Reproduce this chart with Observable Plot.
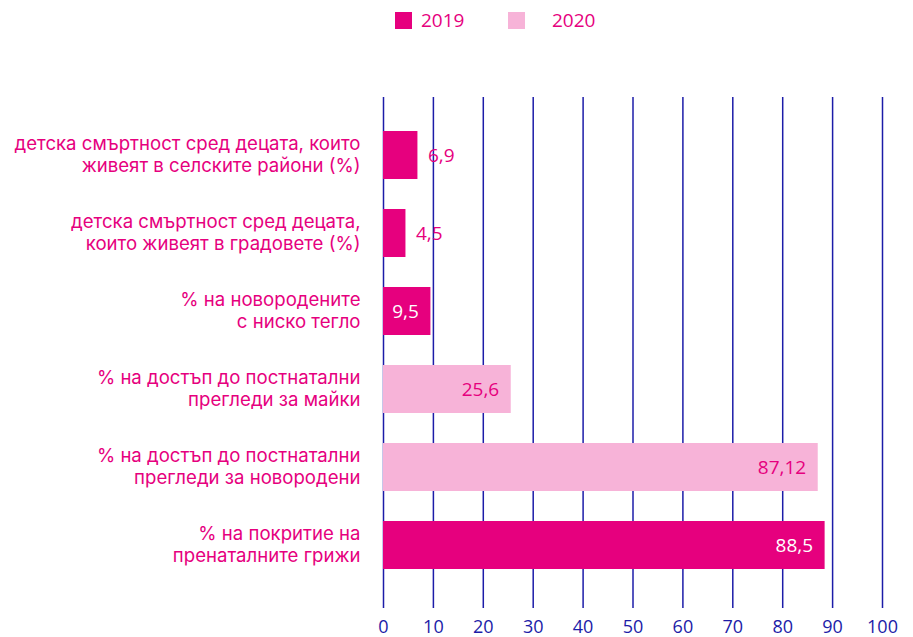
<!DOCTYPE html>
<html>
<head>
<meta charset="utf-8">
<script src="https://cdn.jsdelivr.net/npm/d3@7"></script>
<script src="https://cdn.jsdelivr.net/npm/@observablehq/plot@0.6"></script>
<style>
  html, body { margin: 0; padding: 0; background: #fff; }
  #wrap { width: 913px; height: 637px; position: relative; font-family: "Open Sans", sans-serif; }
  #legend { height: 40px; position: relative; }
  .sw { position: absolute; top: 12px; width: 17px; height: 17px; }
  .lt { position: absolute; top: 7px; font-size: 19px; color: #e6007e; font-family: "Open Sans", sans-serif; }
</style>
</head>
<body>
<div id="wrap">
  <div id="legend">
    <div class="sw" style="left:395px;background:#e6007e"></div>
    <div class="lt" style="left:421px">2019</div>
    <div class="sw" style="left:508px;background:#f7b3d8"></div>
    <div class="lt" style="left:552px">2020</div>
  </div>
  <div id="chart"></div>
</div>
<script>
const categories = [
  "детска смъртност сред децата, които\nживеят в селските райони (%)",
  "детска смъртност сред децата,\nкоито живеят в градовете (%)",
  "% на новородените\nс ниско тегло",
  "% на достъп до постнатални\nпрегледи за майки",
  "% на достъп до постнатални\nпрегледи за новородени",
  "% на покритие на\nпренаталните грижи"
];
const values = [6.9, 4.5, 9.5, 25.6, 87.12, 88.5];
const years = ["2019", "2019", "2019", "2020", "2020", "2019"];
const xTicks = [0, 10, 20, 30, 40, 50, 60, 70, 80, 90, 100];

const data = categories.map((c, i) => ({cat: c, value: values[i], year: years[i], label: String(values[i]).replace(".", ",")}));
const outside = data.filter(d => d.value < 8);
const inside = data.filter(d => d.value >= 8);

const magenta = "#e6007e";
const pink = "#f7b3d8";
const navy = "#1c1ca8";

const chart = Plot.plot({
  width: 913,
  height: 597,
  marginTop: 57,
  marginBottom: 29,
  marginLeft: 383,
  marginRight: 31,
  style: {fontFamily: "Open Sans, sans-serif", background: "white"},
  x: {domain: [0, 100], ticks: xTicks, axis: null, label: null},
  y: {domain: categories, paddingInner: 0.39, paddingOuter: 0.445, align: 0.457, axis: null},
  color: {domain: ["2019", "2020"], range: [magenta, pink]},
  marks: [
    Plot.ruleX(xTicks, {stroke: navy, strokeWidth: 1.5}),
    Plot.barX(data, {y: "cat", x: "value", fill: "year"}),
    Plot.text(outside, {y: "cat", x: "value", text: "label", dx: 10, textAnchor: "start", fill: magenta, fontSize: 19}),
    Plot.text(inside, {y: "cat", x: "value", text: "label", dx: -12, textAnchor: "end", fill: d => d.year === "2019" ? "white" : magenta, fontSize: 19}),
    Plot.text(data, {y: "cat", x: 0, text: "cat", dx: -23, dy: -2, textAnchor: "end", lineHeight: 1.18, fill: magenta, fontSize: 18.6, fontFamily: "Inter, sans-serif"}),
    Plot.axisX(xTicks, {tickSize: 0, tickPadding: 12, fontSize: 18, color: navy, label: null, tickFormat: d => String(d)})
  ]
});
document.getElementById("chart").appendChild(chart);
</script>
</body>
</html>
